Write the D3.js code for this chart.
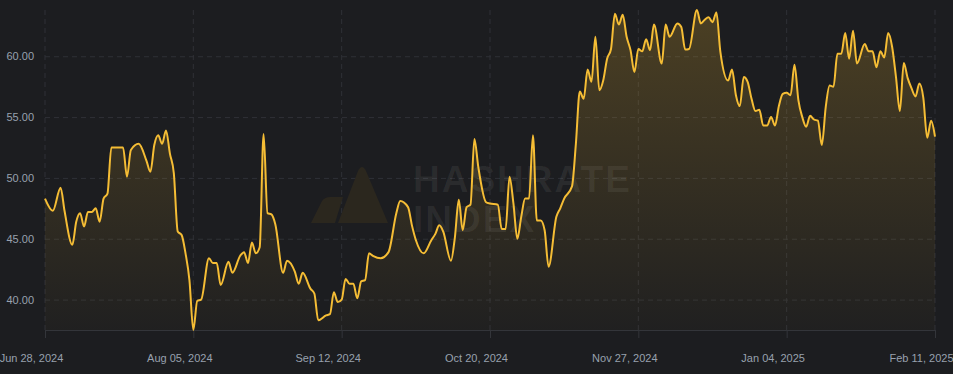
<!doctype html>
<html>
<head>
<meta charset="utf-8">
<script src="https://d3js.org/d3.v7.min.js"></script>
<style>
    html, body { margin: 0; padding: 0; background: #1c1d20; }
    svg { display: block; }
    text { font-family: "Liberation Sans", Arial, sans-serif; }
</style>
</head>
<body>
<svg id="chart" width="953" height="374"></svg>
<script>
    // dates (irregular where the line was read)
    var dates = [
        "2024-06-28", "2024-06-30", "2024-07-02", "2024-07-03", "2024-07-05", "2024-07-06", "2024-07-07", "2024-07-08",
        "2024-07-09", "2024-07-10", "2024-07-11", "2024-07-12", "2024-07-13", "2024-07-14", "2024-07-15", "2024-07-18",
        "2024-07-19", "2024-07-20", "2024-07-22", "2024-07-24", "2024-07-25", "2024-07-26", "2024-07-27", "2024-07-28",
        "2024-07-29", "2024-07-30", "2024-07-31", "2024-08-01", "2024-08-02", "2024-08-03", "2024-08-04", "2024-08-05",
        "2024-08-06", "2024-08-07", "2024-08-09", "2024-08-10", "2024-08-11", "2024-08-12", "2024-08-14", "2024-08-15",
        "2024-08-17", "2024-08-18", "2024-08-19", "2024-08-20", "2024-08-21", "2024-08-22", "2024-08-23", "2024-08-24",
        "2024-08-25", "2024-08-26", "2024-08-28", "2024-08-29", "2024-08-31", "2024-09-01", "2024-09-02", "2024-09-04",
        "2024-09-05", "2024-09-06", "2024-09-08", "2024-09-09", "2024-09-10", "2024-09-11", "2024-09-12", "2024-09-13",
        "2024-09-14", "2024-09-15", "2024-09-16", "2024-09-17", "2024-09-18", "2024-09-19", "2024-09-20", "2024-09-22",
        "2024-09-24", "2024-09-26", "2024-09-27", "2024-09-29", "2024-09-30", "2024-10-01", "2024-10-03", "2024-10-05",
        "2024-10-06", "2024-10-07", "2024-10-08", "2024-10-10", "2024-10-11", "2024-10-12", "2024-10-13", "2024-10-14",
        "2024-10-15", "2024-10-16", "2024-10-17", "2024-10-19", "2024-10-20", "2024-10-22", "2024-10-23", "2024-10-24",
        "2024-10-25", "2024-10-26", "2024-10-27", "2024-10-28", "2024-10-29", "2024-10-30", "2024-10-31", "2024-11-01",
        "2024-11-02", "2024-11-03", "2024-11-04", "2024-11-06", "2024-11-07", "2024-11-08", "2024-11-10", "2024-11-11",
        "2024-11-12", "2024-11-13", "2024-11-14", "2024-11-15", "2024-11-16", "2024-11-17", "2024-11-18", "2024-11-19",
        "2024-11-20", "2024-11-21", "2024-11-22", "2024-11-23", "2024-11-24", "2024-11-25", "2024-11-26", "2024-11-27",
        "2024-11-28", "2024-11-29", "2024-11-30", "2024-12-01", "2024-12-03", "2024-12-04", "2024-12-05", "2024-12-07",
        "2024-12-08", "2024-12-09", "2024-12-10", "2024-12-12", "2024-12-13", "2024-12-14", "2024-12-15", "2024-12-16",
        "2024-12-17", "2024-12-18", "2024-12-20", "2024-12-21", "2024-12-22", "2024-12-23", "2024-12-24", "2024-12-25",
        "2024-12-26", "2024-12-27", "2024-12-28", "2024-12-29", "2024-12-30", "2024-12-31", "2025-01-01", "2025-01-02",
        "2025-01-03", "2025-01-04", "2025-01-05", "2025-01-06", "2025-01-07", "2025-01-08", "2025-01-09", "2025-01-10",
        "2025-01-11", "2025-01-12", "2025-01-13", "2025-01-14", "2025-01-15", "2025-01-16", "2025-01-17", "2025-01-18",
        "2025-01-19", "2025-01-20", "2025-01-21", "2025-01-22", "2025-01-24", "2025-01-25", "2025-01-26", "2025-01-27",
        "2025-01-28", "2025-01-29", "2025-01-30", "2025-01-31", "2025-02-01", "2025-02-02", "2025-02-03", "2025-02-04",
        "2025-02-05", "2025-02-06", "2025-02-07", "2025-02-08", "2025-02-09", "2025-02-10", "2025-02-11"
    ];
    var values = [
        48.3, 47.3, 49.2, 47.3, 44.5, 46.4, 47.1, 46.0,
        47.2, 47.2, 47.5, 46.4, 48.3, 48.7, 52.5, 52.5,
        50.1, 52.3, 52.8, 51.4, 50.5, 52.7, 53.5, 52.8,
        53.9, 52.0, 50.4, 45.6, 45.3, 43.8, 41.6, 37.5,
        39.9, 40.0, 43.4, 43.0, 43.0, 41.2, 43.1, 42.2,
        43.6, 43.9, 43.0, 44.7, 43.8, 44.3, 53.6, 47.1,
        47.0, 46.2, 42.2, 43.2, 42.3, 41.3, 42.2, 40.9,
        40.5, 38.3, 38.7, 38.8, 40.6, 39.8, 40.0, 41.7,
        41.3, 41.3, 40.1, 41.5, 41.6, 43.8, 43.6, 43.4,
        43.9, 47.1, 48.1, 47.6, 46.1, 44.9, 43.8, 44.9,
        45.4, 46.1, 45.6, 43.2, 45.1, 48.2, 45.7, 47.6,
        47.8, 53.2, 50.9, 48.0, 47.9, 47.8, 45.8, 45.8,
        50.1, 47.9, 45.0, 46.8, 48.3, 48.3, 53.5, 46.5,
        46.5, 45.7, 42.7, 46.8, 47.5, 48.3, 49.3, 52.8,
        57.1, 56.5, 58.9, 57.9, 61.6, 57.2, 58.0, 59.8,
        60.6, 63.5, 62.6, 63.4, 61.6, 60.5, 58.7, 60.6,
        60.4, 61.4, 60.5, 62.6, 59.4, 62.6, 61.6, 62.7,
        62.4, 60.55, 60.6, 63.8, 62.7, 63.0, 63.2, 62.8,
        63.6, 60.4, 58.0, 58.9, 56.8, 55.9, 58.3, 57.9,
        56.5, 55.5, 55.6, 54.3, 54.3, 55.0, 54.3, 55.9,
        56.9, 57.0, 56.8, 59.3, 56.4, 55.0, 54.2, 55.1,
        54.8, 54.7, 52.7, 55.8, 57.6, 57.5, 60.2, 60.2,
        61.9, 59.8, 62.1, 59.4, 61.0, 60.4, 60.4, 59.1,
        60.4, 59.9, 61.9, 60.8, 58.3, 55.5, 59.45, 58.2,
        57.35, 56.7, 57.75, 56.6, 53.3, 54.7, 53.4
    ];
    var xTickDates = ["2024-06-28", "2024-08-05", "2024-09-12", "2024-10-20", "2024-11-27", "2025-01-04", "2025-02-11"];
    var yTicks = [40, 45, 50, 55, 60];

    var W = 953, H = 374;
    var margin = { top: 10, right: 18, bottom: 44, left: 45 };
    var parse = d3.utcParse("%Y-%m-%d");
    var fmt = d3.utcFormat("%b %d, %Y");

    var data = dates.map(function (d, i) { return { date: parse(d), value: values[i] }; });

    var svg = d3.select("#chart");

    var x = d3.scaleUtc()
        .domain([parse(xTickDates[0]), parse(xTickDates[xTickDates.length - 1])])
        .range([margin.left, W - margin.right]);
    var y = d3.scaleLinear()
        .domain(d3.extent(values))
        .range([H - margin.bottom, margin.top]);

    // gradient under the line
    var grad = svg.append("defs").append("linearGradient")
        .attr("id", "fillGrad")
        .attr("x1", 0).attr("y1", 0).attr("x2", 0).attr("y2", 1);
    grad.append("stop").attr("offset", "0%").attr("stop-color", "#f3ba2f").attr("stop-opacity", 0.22);
    grad.append("stop").attr("offset", "100%").attr("stop-color", "#f3ba2f").attr("stop-opacity", 0.02);

    // horizontal grid + y labels
    var yAxis = svg.append("g")
        .attr("transform", "translate(" + margin.left + ",0)")
        .call(d3.axisLeft(y).tickValues(yTicks).tickSize(-(W - margin.left - margin.right))
            .tickFormat(d3.format(".2f")).tickPadding(11));
    yAxis.select(".domain").remove();
    yAxis.selectAll(".tick line")
        .attr("stroke", "#2f3136")
        .attr("stroke-dasharray", "5,4");
    yAxis.selectAll(".tick text")
        .attr("fill", "#98a1ae")
        .style("font-size", "11px");

    // vertical grid
    svg.append("g")
        .selectAll("line")
        .data(xTickDates)
        .enter()
        .append("line")
        .attr("x1", d => x(parse(d)))
        .attr("x2", d => x(parse(d)))
        .attr("y1", margin.top)
        .attr("y2", H - margin.bottom)
        .attr("stroke", "#2f3136")
        .attr("stroke-dasharray", "5,4");

    // bottom axis, labels sit a little left of their ticks
    var xAxis = svg.append("g")
        .attr("transform", "translate(0," + (H - margin.bottom) + ")")
        .call(d3.axisBottom(x).tickValues(xTickDates.map(parse)).tickFormat(fmt)
            .tickSize(8).tickSizeOuter(0).tickPadding(16));
    xAxis.select(".domain").attr("stroke", "#33353a");
    xAxis.selectAll(".tick line").attr("stroke", "#33353a");
    xAxis.selectAll(".tick text")
        .attr("dx", -14)
        .attr("fill", "#98a1ae")
        .style("font-size", "11px");

    // area and line
    svg.append("path")
        .datum(data)
        .attr("fill", "url(#fillGrad)")
        .attr("d", d3.area()
            .curve(d3.curveMonotoneX)
            .x(d => x(d.date))
            .y0(H - margin.bottom)
            .y1(d => y(d.value)));

    // watermark
    var wm = svg.append("g");
    wm.append("path")
        .attr("d", "M338,223 L358,171 Q362,163 366,171 L388,223 Z")
        .attr("fill", "#2b271e");
    wm.append("path")
        .attr("d", "M311,223 L322,201 Q325,197 330,197 L343,197 L335,223 Z")
        .attr("fill", "#2b271e");
    wm.selectAll("text.wm")
        .data(["HASHRATE", "INDEX"])
        .enter()
        .append("text")
        .attr("class", "wm")
        .attr("x", 413)
        .attr("y", (d, i) => 192 + i * 40)
        .attr("fill", "#ffffff").attr("fill-opacity", 0.065)
        .style("font-size", "37px").style("font-weight", "bold")
        .style("letter-spacing", "2px")
        .text(d => d);

    svg.append("path")
        .datum(data)
        .attr("fill", "none")
        .attr("stroke", "#f5bd35")
        .attr("stroke-width", 2)
        .attr("stroke-linejoin", "round")
        .attr("d", d3.line()
            .curve(d3.curveMonotoneX)
            .x(d => x(d.date))
            .y(d => y(d.value)));
</script>
</body>
</html>
